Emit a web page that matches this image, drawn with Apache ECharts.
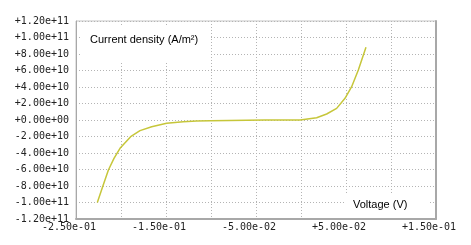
<!DOCTYPE html>
<html>
<head>
<meta charset="utf-8">
<script src="https://cdn.jsdelivr.net/npm/echarts@6/dist/echarts.min.js"></script>
<style>
html,body{margin:0;padding:0;background:#fff;}
#chart{width:471px;height:245px;}
</style>
</head>
<body>
<div id="chart"></div>
<script>
// Data
var voltage = [-0.2263, -0.2204, -0.2140, -0.2078, -0.2011, -0.1893, -0.1789, -0.1659, -0.1493, -0.1308, -0.1160, -0.1010, -0.0800, -0.0600, -0.0400, -0.0200, -0.0010, 0.0174, 0.0285, 0.0396, 0.0489, 0.0563, 0.0637, 0.0722];
var currentDensity = [-1.0e11, -8.08e10, -6.06e10, -4.65e10, -3.43e10, -2.02e10, -1.29e10, -8.1e9, -4.0e9, -2.0e9, -1.2e9, -8.0e8, -5.0e8, -3.0e8, -1.0e8, 0, 0, 2.8e9, 7.3e9, 1.41e10, 2.63e10, 4.04e10, 6.06e10, 8.81e10];
var xTickLabels = ['-2.50e-01', '-1.50e-01', '-5.00e-02', '+5.00e-02', '+1.50e-01'];
var yTitle = 'Current density (A/m\u00b2)';
var xTitle = 'Voltage (V)';

function fmtExp(v) {
  if (Math.abs(v) < 1e-15) return '+0.00e+00';
  var sign = v < 0 ? '-' : '+';
  var parts = Math.abs(v).toExponential(2).split('e');
  var e = parseInt(parts[1], 10);
  var es = (e < 0 ? '-' : '+') + (Math.abs(e) < 10 ? '0' : '') + Math.abs(e);
  return sign + parts[0] + 'e' + es;
}

var pts = voltage.map(function (v, i) { return [v, currentDensity[i]]; });

var chart = echarts.init(document.getElementById('chart'), null, {renderer: 'canvas'});
var labelFont = {fontFamily: 'DejaVu Sans Mono', fontSize: 10, color: '#222'};
var gridLine = {show: true, lineStyle: {color: '#b4b4b4', type: [1, 2], width: 1}};

chart.setOption({
  animation: false,
  backgroundColor: '#fff',
  grid: {left: 76, top: 21, right: 35, bottom: 26, show: true, borderColor: '#c4c4c4', borderWidth: 1},
  xAxis: {
    type: 'value', min: -0.25, max: 0.15, interval: 0.05,
    axisLine: {show: true, onZero: false, lineStyle: {color: '#a8a8a8', width: 2}},
    axisTick: {show: false},
    splitLine: gridLine,
    axisLabel: Object.assign({
      margin: 3,
      padding: [0, 14, 0, 0],
      showMinLabel: true, showMaxLabel: true,
      formatter: function (v) {
        var idx = Math.round((v + 0.25) / 0.05);
        if (idx % 2 !== 0) return '';
        return xTickLabels[idx / 2] || fmtExp(v);
      }
    }, labelFont)
  },
  yAxis: [{
    type: 'value', min: -1.2e11, max: 1.2e11, interval: 2e10,
    axisLine: {show: true, onZero: false, lineStyle: {color: '#a8a8a8', width: 1}},
    axisTick: {show: false},
    splitLine: gridLine,
    axisLabel: Object.assign({margin: 7, showMinLabel: true, showMaxLabel: true, formatter: fmtExp}, labelFont)
  }, {
    type: 'value', position: 'right', min: -1.2e11, max: 1.2e11, interval: 2e10,
    axisLine: {show: true, onZero: false, lineStyle: {color: '#a8a8a8', width: 2}},
    axisTick: {show: false}, splitLine: {show: false}, axisLabel: {show: false}
  }],
  series: [{
    type: 'line', data: pts, showSymbol: false, smooth: false,
    lineStyle: {color: '#c6c63a', width: 1.5}, z: 3
  }],
  graphic: [
    {type: 'rect', left: 81, top: 26, shape: {width: 129, height: 37}, style: {fill: '#fff'}, z: 10},
    {type: 'text', left: 90, top: 34, style: {text: yTitle, font: '11px "Liberation Sans", Arial, sans-serif', fill: '#000'}, z: 11},
    {type: 'rect', left: 346, top: 194, shape: {width: 82, height: 23}, style: {fill: '#fff'}, z: 10},
    {type: 'text', left: 353, top: 199, style: {text: xTitle, font: '11px "Liberation Sans", Arial, sans-serif', fill: '#000'}, z: 11}
  ]
});
</script>
</body>
</html>
